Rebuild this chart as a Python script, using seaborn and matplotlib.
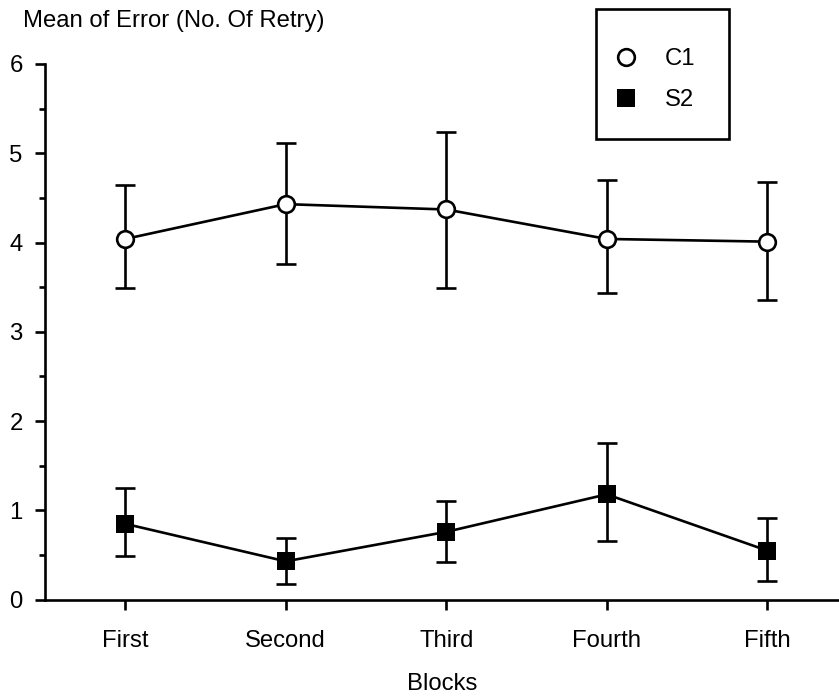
import numpy as np
import pandas as pd
import matplotlib
matplotlib.use("Agg")
import matplotlib.pyplot as plt
from matplotlib.lines import Line2D
from matplotlib.patches import Rectangle
from matplotlib.ticker import MultipleLocator
import seaborn as sns

# Blocks on the x axis
blocks = ["First", "Second", "Third", "Fourth", "Fifth"]

# Group C1: means with lower / upper error limits
c1_mean = [4.04, 4.43, 4.37, 4.04, 4.01]
c1_low = [3.49, 3.76, 3.49, 3.43, 3.36]
c1_high = [4.64, 5.12, 5.24, 4.70, 4.68]

# Group S2: means with lower / upper error limits
s2_mean = [0.85, 0.43, 0.76, 1.18, 0.55]
s2_low = [0.49, 0.18, 0.42, 0.66, 0.21]
s2_high = [1.25, 0.69, 1.10, 1.76, 0.92]

sns.set_style("ticks")
plt.rcParams["font.family"] = ["Liberation Sans", "DejaVu Sans"]
plt.rcParams["text.color"] = "black"
FS = 17.2
LW = 1.9

pos = np.arange(len(blocks))
df = pd.DataFrame({
    "pos": np.concatenate([pos, pos]),
    "mean": c1_mean + s2_mean,
    "group": ["C1"] * len(blocks) + ["S2"] * len(blocks),
})

fig = plt.figure(figsize=(8.39, 6.98), dpi=100)
ax = fig.add_axes([45 / 839, 0.1408, 794 / 839, 0.7676])

# error bars first so the markers sit on top of them
for mean, lo, hi in [(c1_mean, c1_low, c1_high), (s2_mean, s2_low, s2_high)]:
    mean = np.array(mean)
    yerr = [mean - np.array(lo), np.array(hi) - mean]
    ax.errorbar(pos, mean, yerr=yerr, fmt="none", ecolor="black",
                elinewidth=LW, capsize=7.5, capthick=LW, zorder=2)

sns.lineplot(data=df[df.group == "C1"], x="pos", y="mean", ax=ax,
             color="black", linewidth=LW, marker="o", markersize=12,
             markerfacecolor="white", markeredgecolor="black",
             markeredgewidth=1.9, zorder=3, legend=False)
sns.lineplot(data=df[df.group == "S2"], x="pos", y="mean", ax=ax,
             color="black", linewidth=LW, marker="s", markersize=13.5,
             markerfacecolor="black", markeredgecolor="black",
             markeredgewidth=0, zorder=3, legend=False)

ax.set_xlim(-0.5, 4.447)
ax.set_ylim(0, 6)
ax.set_xticks(pos)
ax.set_xticklabels(blocks)
ax.yaxis.set_major_locator(MultipleLocator(1))
ax.yaxis.set_minor_locator(MultipleLocator(0.5))
ax.tick_params(axis="y", which="major", length=7, width=LW, pad=9,
               labelsize=FS, color="black", labelcolor="black")
ax.tick_params(axis="y", which="minor", length=4, width=LW, color="black")
ax.tick_params(axis="x", which="major", length=7, width=LW, pad=15,
               labelsize=FS, color="black", labelcolor="black")

for side in ["top", "right"]:
    ax.spines[side].set_visible(False)
for side in ["left", "bottom"]:
    ax.spines[side].set_linewidth(LW)
    ax.spines[side].set_color("black")

ax.set_xlabel("Blocks", fontsize=FS, labelpad=15, color="black")
ax.set_ylabel("")
fig.text(23 / 839, 1 - 27 / 698, "Mean of Error (No. Of Retry)",
         fontsize=FS, ha="left", va="baseline", color="black")

# legend with a square box
handles = [
    Line2D([], [], linestyle="none", marker="o", markersize=12,
           markerfacecolor="white", markeredgecolor="black", markeredgewidth=1.9),
    Line2D([], [], linestyle="none", marker="s", markersize=13.5,
           markerfacecolor="black", markeredgecolor="black", markeredgewidth=0),
]
fig.legend(handles, ["C1", "S2"], loc="upper left",
           bbox_to_anchor=(617 / 839, 1 - 48 / 698), frameon=False,
           fontsize=FS, borderpad=0, handlelength=0.75, handletextpad=1.25,
           labelspacing=0.8, borderaxespad=0, labelcolor="black")
fig.patches.append(Rectangle((596 / 839, 1 - 139 / 698), 133 / 839, 130 / 698,
                             transform=fig.transFigure, fill=False,
                             edgecolor="black", linewidth=LW))

fig.savefig("out.png", dpi=100)
